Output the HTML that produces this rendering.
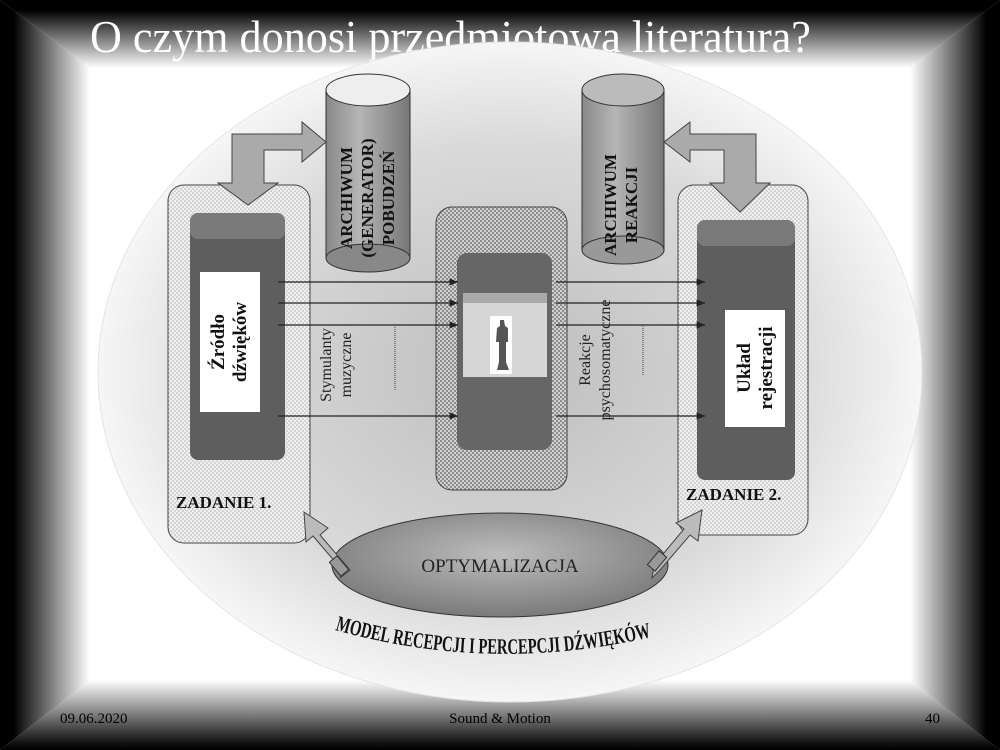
<!DOCTYPE html>
<html><head><meta charset="utf-8"><style>
html,body{margin:0;padding:0;background:#000}
svg{display:block}
</style></head><body>
<svg width="1000" height="750" viewBox="0 0 1000 750" xmlns="http://www.w3.org/2000/svg">
<defs>
<linearGradient id="gt" x1="0" y1="0" x2="0" y2="1"><stop offset="0" stop-color="#000"/><stop offset="0.15" stop-color="#000"/><stop offset="1" stop-color="#fff"/></linearGradient>
<linearGradient id="gb" x1="0" y1="1" x2="0" y2="0"><stop offset="0" stop-color="#000"/><stop offset="0.1" stop-color="#111"/><stop offset="1" stop-color="#fff"/></linearGradient>
<linearGradient id="gl" x1="0" y1="0" x2="1" y2="0"><stop offset="0" stop-color="#000"/><stop offset="0.15" stop-color="#000"/><stop offset="1" stop-color="#fff"/></linearGradient>
<linearGradient id="gr" x1="1" y1="0" x2="0" y2="0"><stop offset="0" stop-color="#000"/><stop offset="0.15" stop-color="#000"/><stop offset="1" stop-color="#fff"/></linearGradient>
<radialGradient id="bigE" cx="0.5" cy="0.5" r="0.5"><stop offset="0" stop-color="#bdbdbd"/><stop offset="0.7" stop-color="#dadada"/><stop offset="1" stop-color="#f6f6f6"/></radialGradient>
<pattern id="dots" width="4" height="4" patternUnits="userSpaceOnUse"><rect width="4" height="4" fill="#f0f0f0"/><circle cx="1" cy="1" r="0.8" fill="#b0b0b0"/><circle cx="3" cy="3" r="0.8" fill="#b0b0b0"/></pattern>
<pattern id="dots2" width="4" height="4" patternUnits="userSpaceOnUse"><rect width="4" height="4" fill="#d0d0d0"/><circle cx="1" cy="1" r="1" fill="#777"/><circle cx="3" cy="3" r="1" fill="#777"/></pattern>
<linearGradient id="cyl" x1="0" y1="0" x2="1" y2="0"><stop offset="0" stop-color="#888"/><stop offset="0.4" stop-color="#b5b5b5"/><stop offset="1" stop-color="#777"/></linearGradient>
<radialGradient id="opt" cx="0.5" cy="0.4" r="0.6"><stop offset="0" stop-color="#bdbdbd"/><stop offset="1" stop-color="#7a7a7a"/></radialGradient>
<marker id="ah" markerWidth="8" markerHeight="8" refX="7" refY="4" orient="auto"><path d="M0,1 L7,4 L0,7 z" fill="#222"/></marker>
</defs>
<rect width="1000" height="750" fill="#fff"/>
<polygon points="0,0 1000,0 910,68 90,68" fill="url(#gt)"/>
<polygon points="0,750 1000,750 910,680 90,680" fill="url(#gb)"/>
<polygon points="0,0 90,68 90,680 0,750" fill="url(#gl)"/>
<polygon points="1000,0 910,68 910,680 1000,750" fill="url(#gr)"/>
<text x="90" y="52" font-family="Liberation Serif, serif" font-size="46" fill="#fff" transform="translate(90 0) scale(0.96 1) translate(-90 0)">O czym donosi przedmiotowa literatura?</text>
<ellipse cx="510" cy="372" rx="412" ry="330" fill="url(#bigE)" stroke="#e4e4e4"/>

<rect x="326" y="90" width="84" height="168" fill="url(#cyl)" stroke="#333"/>
<ellipse cx="368" cy="258" rx="42" ry="14" fill="#888" stroke="#333"/>
<ellipse cx="368" cy="90" rx="42" ry="16" fill="#eee" stroke="#333"/>
<rect x="582" y="90" width="82" height="160" fill="url(#cyl)" stroke="#333"/>
<ellipse cx="623" cy="250" rx="41" ry="14" fill="#999" stroke="#333"/>
<ellipse cx="623" cy="90" rx="41" ry="16" fill="#bbb" stroke="#333"/>
<g font-family="Liberation Serif, serif" font-weight="bold" font-size="17" fill="#111" text-anchor="middle">
<text transform="translate(352 198) rotate(-90)">ARCHIWUM</text>
<text transform="translate(373 198) rotate(-90)">(GENERATOR)</text>
<text transform="translate(394 198) rotate(-90)">POBUDZEŃ</text>
<text transform="translate(616 205) rotate(-90)">ARCHIWUM</text>
<text transform="translate(637 205) rotate(-90)">REAKCJI</text>
</g>

<rect x="168" y="185" width="142" height="358" rx="16" fill="url(#dots)" stroke="#444"/>
<rect x="678" y="185" width="130" height="350" rx="16" fill="url(#dots)" stroke="#444"/>
<rect x="436" y="207" width="131" height="283" rx="16" fill="url(#dots2)" stroke="#444"/>

<rect x="190" y="213" width="95" height="247" rx="8" fill="#5e5e5e"/>
<rect x="190" y="213" width="95" height="26" rx="8" fill="#7a7a7a"/>
<rect x="200" y="272" width="60" height="140" fill="#fff"/>
<g font-family="Liberation Serif, serif" font-weight="bold" font-size="19" fill="#111" text-anchor="middle">
<text transform="translate(224 342) rotate(-90)">Źródło</text>
<text transform="translate(246 342) rotate(-90)">dźwięków</text>
</g>
<rect x="457" y="253" width="95" height="197" rx="10" fill="#666"/>
<rect x="463" y="300" width="84" height="77" fill="#d6d6d6"/>
<rect x="463" y="293" width="84" height="10" fill="#aaa"/>
<rect x="490" y="316" width="22" height="58" fill="#fff"/>
<path d="M500,320 l4,0 l1,6 l3,2 l0,14 l-2,0 l0,20 l3,8 l-12,0 l2,-8 l0,-20 l-3,0 l1,-14 l3,-2z" fill="#555"/>
<rect x="697" y="220" width="98" height="260" rx="8" fill="#5e5e5e"/>
<rect x="697" y="220" width="98" height="26" rx="8" fill="#7a7a7a"/>
<rect x="725" y="310" width="60" height="117" fill="#fff"/>
<g font-family="Liberation Serif, serif" font-weight="bold" font-size="19" fill="#111" text-anchor="middle">
<text transform="translate(750 368) rotate(-90)">Układ</text>
<text transform="translate(772 368) rotate(-90)">rejestracji</text>
</g>

<g stroke="#222" stroke-width="1.2" marker-end="url(#ah)">
<line x1="278" y1="282" x2="458" y2="282"/><line x1="278" y1="303" x2="458" y2="303"/>
<line x1="278" y1="325" x2="458" y2="325"/><line x1="278" y1="416" x2="458" y2="416"/>
<line x1="556" y1="282" x2="705" y2="282"/><line x1="556" y1="303" x2="705" y2="303"/>
<line x1="556" y1="325" x2="705" y2="325"/><line x1="556" y1="416" x2="705" y2="416"/>
</g>
<g stroke="#444" stroke-dasharray="1,1"><line x1="395" y1="390" x2="395" y2="325"/><line x1="643" y1="375" x2="643" y2="325"/></g>
<g font-family="Liberation Serif, serif" font-size="16" fill="#222" text-anchor="middle">
<text transform="translate(331 365) rotate(-90)">Stymulanty</text>
<text transform="translate(351 365) rotate(-90)">muzyczne</text>
<text transform="translate(590 360) rotate(-90)">Reakcje</text>
<text transform="translate(610 360) rotate(-90)">psychosomatyczne</text>
</g>

<path d="M232,183 L218,183 L248,205 L278,183 L264,183 L264,150 L302,150 L302,162 L326,142 L302,122 L302,134 L248,134 L232,134 Z" fill="#aaa" stroke="#444"/>
<path d="M724,183 L710,183 L740,212 L770,183 L756,183 L756,134 L690,134 L690,122 L664,142 L690,162 L690,150 L724,150 Z" fill="#aaa" stroke="#444"/>

<ellipse cx="500" cy="565" rx="168" ry="52" fill="url(#opt)" stroke="#333"/>
<text x="500" y="572" font-family="Liberation Serif, serif" font-size="19" fill="#222" text-anchor="middle">OPTYMALIZACJA</text>
<path d="M340,578 L350,570 L320,535 L328,528 L304,512 L306,542 L313,536 L343,571 Z" fill="#bbb" stroke="#444"/>
<path d="M652,578 L660,570 L690,535 L698,541 L702,510 L676,523 L684,529 L654,565 Z" fill="#bbb" stroke="#444"/>
<rect x="334" y="557" width="10" height="18" fill="#999" stroke="#333" transform="rotate(-40 339 566)"/>
<rect x="652" y="552" width="10" height="18" fill="#999" stroke="#333" transform="rotate(40 657 561)"/>

<g font-family="Liberation Serif, serif" font-weight="bold" font-size="17" fill="#111">
<text x="176" y="508">ZADANIE 1.</text>
<text x="686" y="500">ZADANIE 2.</text>
</g>
<path id="arc" d="M335,630 Q495,675 660,635" fill="none"/>
<text font-family="Liberation Serif, serif" font-weight="bold" font-size="22" fill="#111"><textPath href="#arc" textLength="320" lengthAdjust="spacingAndGlyphs">MODEL RECEPCJI I PERCEPCJI  DŹWIĘKÓW</textPath></text>

<g font-family="Liberation Serif, serif" font-size="15" fill="#000">
<text x="60" y="723">09.06.2020</text>
<text x="500" y="723" text-anchor="middle">Sound &amp; Motion</text>
<text x="940" y="723" text-anchor="end">40</text>
</g>
</svg>
</body></html>
